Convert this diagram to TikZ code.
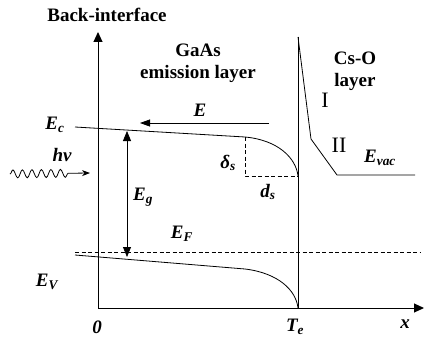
\documentclass[tikz,border=0pt]{standalone}
\usepackage{fontspec}
\setmainfont{Liberation Serif}
\usetikzlibrary{arrows.meta,decorations.pathmorphing}

\begin{document}
\begin{tikzpicture}[x=1pt, y=-1pt,
  band/.style={line width=0.8pt},
  axis/.style={line width=1pt, -{Triangle[length=10pt,width=9pt]}},
  guide/.style={dashed, dash pattern=on 4pt off 2.5pt, line width=0.9pt},
  gaptip/.tip={Triangle[length=10pt,width=8pt]},
  lbl/.style={font=\fontsize{19}{21}\selectfont\bfseries\itshape, inner sep=0pt},
  head/.style={font=\fontsize{19}{22}\selectfont\bfseries, align=center, inner sep=0pt},
  zone/.style={font=\fontsize{22}{24}\selectfont, inner sep=0pt}
]
\useasboundingbox (0,0) rectangle (425,345);

% axes
\coordinate (O) at (98,308);
\coordinate (ytop) at (98,32);
\coordinate (xend) at (424,308);
\draw[axis] (O) -- (ytop);
\draw[axis] (O) -- (xend);

% interface and Cs-O barrier
\coordinate (Ttop) at (298,37);
\coordinate (Te) at (298,308);
\coordinate (k1) at (311,139);
\coordinate (k2) at (337,175);
\coordinate (vac) at (415,175);
\draw[band] (Ttop) -- (Te);
\draw[band] (Ttop) -- (k1) -- (k2) -- (vac);

% conduction band
\coordinate (c0) at (75,127);
\coordinate (cs) at (245,137);
\coordinate (cT) at (298,176);
\coordinate (cd) at (245,176);
\draw[band] (c0) -- (cs) .. controls (278,140) and (296,158) .. (cT);
\draw[guide] (cs) -- (cd) -- (cT);

% valence band
\coordinate (v0) at (75,255);
\coordinate (vs) at (245,269);
\draw[band] (v0) -- (vs) .. controls (278,273) and (296,290) .. (Te);

% Fermi level
\coordinate (f0) at (75,252);
\coordinate (f1) at (420,252);
\draw[guide] (f0) -- (f1);

% field and gap
\coordinate (e0) at (269,123);
\coordinate (e1) at (140,123);
\draw[band, -{Triangle[length=10pt,width=7pt]}] (e0) -- (e1);
\coordinate (g0) at (127,131);
\coordinate (g1) at (127,257);
\draw[band, gaptip-gaptip] (g0) -- (g1);

% photon
\coordinate (w0) at (10,174);
\coordinate (w1) at (90,173);
\draw[band, -{Stealth[length=8pt,width=6pt]}, decorate,
  decoration={snake, amplitude=4pt, segment length=9.5pt, post length=18pt}] (w0) -- (w1);

% labels
\node[head] (back) at (107,15) {Back-interface};
\node[head] (gaas) at (198,63) {GaAs\\emission layer};
\node[head] (cso) at (355,71) {Cs-O\\layer};
\node[zone] (z1) at (325,100) {I};
\node[zone] (z2) at (339,145) {II};
\node[lbl] (Elbl) at (200,110) {E};
\node[lbl] (Ec) at (55,125) {E\textsubscript{c}};
\node[lbl] (hv) at (62,155) {hν};
\node[lbl] (Eg) at (143,197) {E\textsubscript{g}};
\node[lbl] (EF) at (182,234) {E\textsubscript{F}};
\node[lbl] (EV) at (47,282) {E\textsubscript{V}};
\node[lbl] (dls) at (228,163) {δ\textsubscript{s}};
\node[lbl] (ds) at (268,192) {d\textsubscript{s}};
\node[lbl] (Evac) at (380,158) {E\textsubscript{vac}};
\node[lbl] (zero) at (97,327) {0};
\node[lbl] (TeL) at (295,327) {T\textsubscript{e}};
\node[lbl] (xL) at (405,324) {x};
\end{tikzpicture}
\end{document}
